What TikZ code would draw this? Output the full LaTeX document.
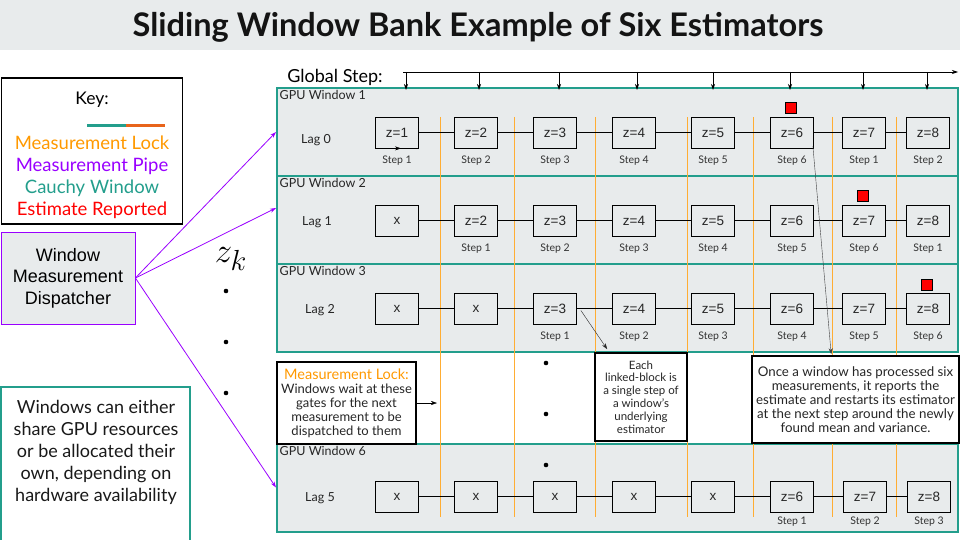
\documentclass[tikz,border=0pt]{standalone}
\usepackage{fontspec}
\setmainfont{Lato}
\newfontfamily\arialfont{Liberation Sans}
\usetikzlibrary{positioning,arrows.meta,calc}

\definecolor{winfill}{HTML}{E8EBEC}
\definecolor{cauchy}{HTML}{239E8C}
\definecolor{lockor}{HTML}{FF9900}
\definecolor{pipecol}{HTML}{9900FF}
\definecolor{barorange}{HTML}{E8641B}

\begin{document}
\begin{tikzpicture}[
    x=1pt, y=-1pt,
    >={Stealth[length=6pt,width=4pt]},
    win/.style={draw=cauchy, line width=2pt, fill=winfill, minimum width=681, minimum height=88},
    blk/.style={draw, line width=0.8pt, fill=winfill, minimum width=43, minimum height=31, font=\arialfont\fontsize{13.5}{14}\selectfont, text=black!85},
    steplbl/.style={below=3.5pt, font=\fontsize{10.5}{12}\selectfont, text=black!80},
    winlbl/.style={anchor=north west, inner sep=3.5pt, font=\fontsize{12.5}{14}\selectfont, text=black!85},
    lag/.style={font=\fontsize{12.5}{14}\selectfont, text=black!85},
    gate/.style={draw=lockor!80, line width=0.9pt},
    note/.style={draw, line width=1.6pt, fill=white, align=center, inner sep=1pt, text=black!85},
    rep/.style={draw, line width=0.6pt, fill=red, minimum size=11, inner sep=0pt},
    pipe/.style={->, draw=pipecol, line width=0.8pt}
]
\useasboundingbox (0,0) rectangle (960,540);

% title
\fill[winfill] (0,0) rectangle (960,50);
\node[font=\bfseries\fontsize{32.5}{36}\selectfont, text=black!92] (title) at (478,27) {Sliding Window Bank Example of Six Estimators};

% key
\node[draw, line width=1.8pt, minimum width=181, minimum height=146] (key) at (92,151) {};
\node[font=\fontsize{17.5}{20}\selectfont] (keyhd) at (92,100) {Key:};
\draw[cauchy, line width=3pt] (87,126) -- (126,126);
\draw[barorange, line width=3pt] (126,126) -- (165,126);
\node[align=center, font=\fontsize{18.5}{22}\selectfont] (keytxt) at (92,177)
    {\textcolor{lockor}{Measurement Lock}\\\textcolor{pipecol}{Measurement Pipe}\\\textcolor{cauchy}{Cauchy Window}\\\textcolor{red}{Estimate Reported}};

\node[draw=pipecol, line width=0.8pt, fill=winfill, minimum width=134, minimum height=92, align=center,
      font=\arialfont\fontsize{18}{21.5}\selectfont] (disp) at (68,278) {Window\\Measurement\\Dispatcher};

\node[draw=cauchy, line width=1.6pt, minimum width=189, minimum height=170] (share) at (95.5,472) {};
\node[align=center, font=\fontsize{18}{22}\selectfont, text=black!90] (sharetxt) at (96,452)
    {Windows can either\\share GPU resources\\or be allocated their\\own, depending on\\hardware availability};

% windows
\node[win] (win1) at (617.5,132) {};
\node[win] (win2) at (617.5,220) {};
\node[win] (win3) at (617.5,308) {};
\node[win] (win6) at (617.5,487.5) {};
\node[winlbl] at (win1.north west) {GPU Window 1};
\node[winlbl] at (win2.north west) {GPU Window 2};
\node[winlbl] at (win3.north west) {GPU Window 3};
\node[winlbl] at (win6.north west) {GPU Window 6};
\node[lag] at (316,140) {Lag 0};
\node[lag] at (317,222) {Lag 1};
\node[lag] at (320,310) {Lag 2};
\node[lag] at (320,498) {Lag 5};

% measurement locks
\foreach \x in {440,514,595,687,753,832,896}
    \draw[gate] (\x,117) -- (\x,517);

% notes
\node[note, minimum width=139, minimum height=82, font=\fontsize{13}{14}\selectfont] (lockNote) at (346.5,403)
    {{\fontsize{14.5}{16}\selectfont\textcolor{lockor}{Measurement Lock:}}\\Windows wait at these\\gates for the next\\measurement to be\\dispatched to them};
\node[note, minimum width=92, minimum height=88, font=\fontsize{11.5}{12.8}\selectfont] (eachNote) at (641,397)
    {Each\\linked-block is\\a single step of\\a window’s\\underlying\\estimator};
\node[note, minimum width=207, minimum height=87, font=\fontsize{13.3}{14}\selectfont] (onceNote) at (855.5,399.5)
    {Once a window has processed six\\measurements, it reports the\\estimate and restarts its estimator\\at the next step around the newly\\found mean and variance.};
\coordinate (gate1) at (437,403);
\draw[->] (lockNote.east) -- (gate1);

% blocks
\foreach \i/\x/\z/\s in {1/397/z=1/Step 1, 2/476/z=2/Step 2, 3/555/z=3/Step 3, 4/634/z=4/Step 4,
                         5/713/z=5/Step 5, 6/792/z=6/Step 6, 7/864/z=7/Step 1, 8/928/z=8/Step 2}{
    \node[blk] (w1b\i) at (\x,132.5) {\z};
    \node[steplbl] at (w1b\i.south) {\s};
}
\foreach \i/\x/\z/\s in {1/397/x/, 2/476/z=2/Step 1, 3/555/z=3/Step 2, 4/634/z=4/Step 3,
                         5/713/z=5/Step 4, 6/792/z=6/Step 5, 7/864/z=7/Step 6, 8/928/z=8/Step 1}{
    \node[blk] (w2b\i) at (\x,220.5) {\z};
    \node[steplbl] at (w2b\i.south) {\s};
}
\foreach \i/\x/\z/\s in {1/397/x/, 2/476/x/, 3/555/z=3/Step 1, 4/634/z=4/Step 2,
                         5/713/z=5/Step 3, 6/792/z=6/Step 4, 7/864/z=7/Step 5, 8/928/z=8/Step 6}{
    \node[blk] (w3b\i) at (\x,308.5) {\z};
    \node[steplbl] at (w3b\i.south) {\s};
}
\foreach \i/\x/\z/\s in {1/397/x/, 2/476/x/, 3/555/x/, 4/634/x/,
                         5/713/x/, 6/792/z=6/Step 1, 7/865/z=7/Step 2, 8/929/z=8/Step 3}{
    \node[blk] (w6b\i) at (\x,496.5) {\z};
    \node[steplbl, below=1pt] at (w6b\i.south) {\s};
}
\foreach \w in {1,2,3,6}
    \foreach \i/\j in {1/2,2/3,3/4,4/5,5/6,6/7,7/8}
        \draw[line width=0.8pt] (w\w b\i) -- (w\w b\j);
\draw[->] ($(w1b1.south)+(-3,0)$) -- ($(w1b1.south)+(4,0)$);

% estimates reported
\node[rep] (rep1) at ($(w1b6.north)+(-1.5,-8.5)$) {};
\node[rep] (rep2) at ($(w2b7.north)+(-1.5,-8.5)$) {};
\node[rep] (rep3) at ($(w3b8.north)+(-1.5,-8)$) {};

% global step
\node[font=\fontsize{18}{20}\selectfont] (gstep) at (335,77) {Global Step:};
\coordinate (gs0) at (403,72);
\coordinate (gs1) at (958,72);
\draw[->, line width=0.7pt] (gs0) -- (gs1);
\foreach \x [count=\i] in {406,479,559,637,713,790,863,927}{
    \coordinate (gt\i) at (\x,72);
    \draw[->, line width=0.7pt] (gt\i) -- ($(gt\i |- win1.north)+(0,3)$);
}

% pipes
\draw[pipe] (disp.east) -- (win1.west);
\draw[pipe] (disp.east) -- ([yshift=12pt]win2.west);
\draw[pipe] (disp.east) -- (win6.west);
\node[font=\fontsize{24.88}{28}\selectfont, scale=1.4] (zk) at (231,259) {$z_k$};
\foreach \y in {291,342,393}
    \fill (226,\y) circle (2.3);
\foreach \y in {363,414,465}
    \fill (546,\y) circle (2.3);

% callouts
\draw[->, black!85] ($(w3b3.east)+(4,2)$) -- ($(eachNote.north west)+(13,-3)$);
\draw[->, black!75] ($(w1b6.south east)+(-1,-2)$) -- ($(onceNote.north west)+(80,-1)$);
\end{tikzpicture}
\end{document}
